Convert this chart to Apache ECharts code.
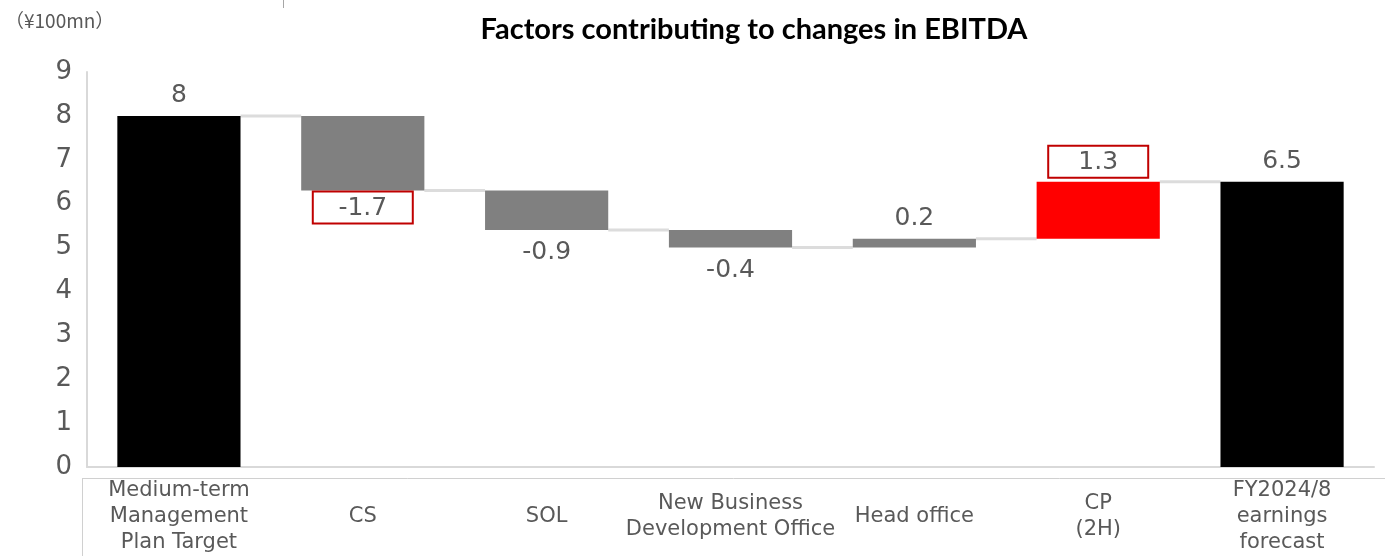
<!DOCTYPE html>
<html>
<head>
<meta charset="utf-8">
<script src="https://cdn.jsdelivr.net/npm/echarts@6/dist/echarts.min.js"></script>
<style>
html,body{margin:0;padding:0;background:#fff;}
#chart{width:1385px;height:556px;}
</style>
</head>
<body>
<div id="chart"></div>
<script>
// ---- data ----
const categories = ['Medium-term\nManagement\nPlan Target', 'CS', 'SOL', 'New Business\nDevelopment Office', 'Head office', 'CP\n(2H)', 'FY2024/8\nearnings\nforecast'];
const startValue = 8;
const changes = [-1.7, -0.9, -0.4, 0.2, 1.3];
const endValue = 6.5;
const yTicks = [0, 1, 2, 3, 4, 5, 6, 7, 8, 9];

// ---- styling (kept separate from data) ----
const barColors = ['#000000', '#808080', '#808080', '#808080', '#808080', '#ff0000', '#000000'];
const boxedLabels = [1, 5]; // category indexes whose labels have a red frame
const textColor = '#595959';
const valueFont = 'DejaVu Sans';

// ---- derive waterfall stacks ----
const base = [0];
const heights = [startValue];
const shown = [startValue];
const levels = [startValue]; // running total after each step
let running = startValue;
changes.forEach(c => {
  const next = Math.round((running + c) * 10) / 10;
  base.push(Math.min(running, next));
  heights.push(Math.abs(c));
  shown.push(c);
  running = next;
  levels.push(running);
});
base.push(0);
heights.push(endValue);
shown.push(endValue);

const barData = heights.map((h, i) => {
  const isEnd = i === 0 || i === heights.length - 1;
  const neg = !isEnd && shown[i] < 0;
  const boxed = boxedLabels.indexOf(i) >= 0;
  const label = {
    show: true,
    position: neg ? 'bottom' : 'top',
    formatter: String(shown[i]),
    color: textColor,
    fontSize: 25,
    fontFamily: valueFont,
    distance: boxed ? (neg ? 2 : 5) : (neg ? 10 : 8)
  };
  if (boxed) {
    Object.assign(label, {
      borderColor: '#c00000',
      borderWidth: 2,
      backgroundColor: '#ffffff',
      width: 96,
      align: 'center',
      padding: [3, 1, 1, 1],
      lineHeight: 26
    });
  }
  return { value: h, itemStyle: { color: barColors[i] }, label: label };
});

// connectors between consecutive bars
const connectorData = levels.map((lv, i) => [i, lv]);

const chart = echarts.init(document.getElementById('chart'));
chart.setOption({
  animation: false,
  backgroundColor: '#ffffff',
  title: {
    text: 'Factors contributing to changes in EBITDA',
    left: 749,
    textAlign: 'center',
    top: 10,
    textStyle: { fontFamily: 'Lato', fontWeight: 'bold', fontSize: 29, color: '#000000' }
  },
  graphic: [
    { type: 'text', left: 5, top: 11, style: { text: '（¥100mn）', fontSize: 19, fill: textColor, fontFamily: 'Noto Sans CJK JP' } },
    { type: 'line', shape: { x1: 283.5, y1: 0, x2: 283.5, y2: 8 }, style: { stroke: '#a6a6a6', lineWidth: 1 } },
    { type: 'line', shape: { x1: 82, y1: 478.5, x2: 1385, y2: 478.5 }, style: { stroke: '#d0d0d0', lineWidth: 1 } },
    { type: 'line', shape: { x1: 82.5, y1: 478, x2: 82.5, y2: 556 }, style: { stroke: '#d0d0d0', lineWidth: 1 } }
  ],
  grid: { left: 87, right: 11, top: 72, bottom: 86, containLabel: false },
  xAxis: {
    type: 'category',
    data: categories,
    axisLine: { show: true, lineStyle: { color: '#d9d9d9', width: 2 } },
    axisTick: { show: false },
    axisLabel: {
      interval: 0,
      margin: 50,
      verticalAlign: 'middle',
      lineHeight: 26,
      fontSize: 21,
      color: textColor,
      fontFamily: 'DejaVu Sans'
    }
  },
  yAxis: {
    type: 'value',
    min: yTicks[0],
    max: yTicks[yTicks.length - 1],
    interval: 1,
    splitLine: { show: false },
    axisLine: { show: true, lineStyle: { color: '#d9d9d9', width: 2 } },
    axisTick: { show: false },
    axisLabel: { fontSize: 26, color: textColor, fontFamily: 'DejaVu Sans', margin: 15 }
  },
  series: [
    {
      type: 'bar',
      stack: 'w',
      barWidth: '67%',
      itemStyle: { color: 'rgba(0,0,0,0)' },
      emphasis: { disabled: true },
      data: base,
      silent: true
    },
    {
      type: 'bar',
      stack: 'w',
      barWidth: '67%',
      data: barData,
      z: 3
    },
    {
      type: 'custom',
      z: 1,
      data: connectorData,
      renderItem: function (params, api) {
        const i = api.value(0);
        const lv = api.value(1);
        const p1 = api.coord([i, lv]);
        const p2 = api.coord([i + 1, lv]);
        const bw = api.size([1, 0])[0] * 0.67 / 2;
        return {
          type: 'line',
          shape: { x1: p1[0] + bw, y1: p1[1], x2: p2[0] - bw, y2: p2[1] },
          style: { stroke: '#dcdcdc', lineWidth: 3 }
        };
      }
    }
  ]
});
</script>
</body>
</html>
